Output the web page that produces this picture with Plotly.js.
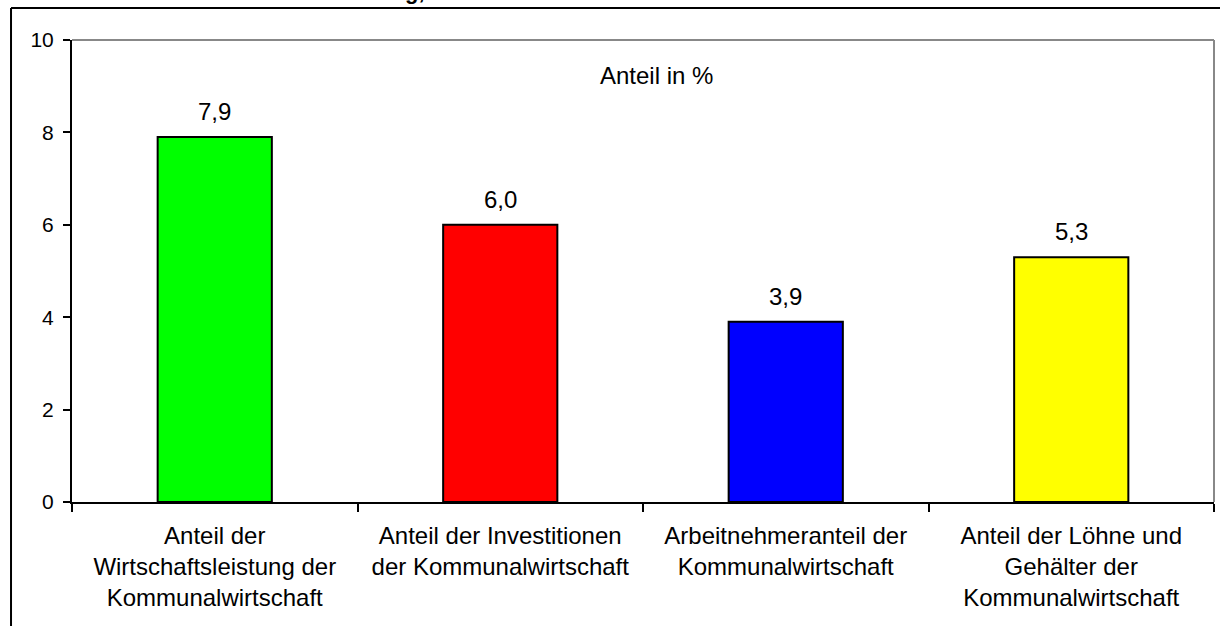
<!DOCTYPE html>
<html>
<head>
<meta charset="utf-8">
<script src="https://cdn.plot.ly/plotly-3.0.1.min.js"></script>
<style>html,body{margin:0;padding:0;background:#fff;}#chart{width:1220px;height:626px;}</style>
</head>
<body>
<div id="chart"></div>
<script>
var categories = [
  "Anteil der<br>Wirtschaftsleistung der<br>Kommunalwirtschaft",
  "Anteil der Investitionen<br>der Kommunalwirtschaft",
  "Arbeitnehmeranteil der<br>Kommunalwirtschaft",
  "Anteil der Löhne und<br>Gehälter der<br>Kommunalwirtschaft"
];
var values = [7.9, 6.0, 3.9, 5.3];
var barColors = ["#00ff00", "#ff0000", "#0000ff", "#ffff00"];
var yTicks = [0, 2, 4, 6, 8, 10];

var font = "Arial, 'Liberation Sans', sans-serif";
var data = [{
  type: "bar",
  x: categories,
  y: values,
  marker: {color: barColors, line: {color: "#000", width: 2}},
  hoverinfo: "skip"
}];

var labelAnns = categories.map(function (c, i) {
  return {
    text: values[i].toFixed(1).replace(".", ","),
    x: c, y: values[i], xref: "x", yref: "y",
    xanchor: "center", yanchor: "bottom", yshift: 10,
    showarrow: false,
    font: {family: font, size: 24, color: "#000"}
  };
});

var layout = {
  width: 1220, height: 626,
  margin: {l: 72, r: 6, t: 40, b: 124},
  paper_bgcolor: "#fff", plot_bgcolor: "#fff",
  bargap: 0.6,
  showlegend: false,
  font: {family: font, size: 24, color: "#000"},
  xaxis: {
    type: "category",
    showline: true, linecolor: "#000", linewidth: 2,
    ticks: "outside", tickson: "boundaries", ticklen: 8, tickwidth: 2, tickcolor: "#000",
    ticklabelstandoff: 11,
    showgrid: false, zeroline: false,
    tickfont: {family: font, size: 24, color: "#000"}
  },
  yaxis: {
    range: [0, 10], tickvals: yTicks,
    showline: true, linecolor: "#000", linewidth: 2,
    ticks: "outside", ticklen: 7, tickwidth: 2, tickcolor: "#000",
    ticklabelstandoff: 5,
    showgrid: false, zeroline: false,
    tickfont: {family: font, size: 21, color: "#000"}
  },
  shapes: [
    {type: "line", xref: "paper", yref: "paper", x0: 0, x1: 1, y0: 1, y1: 1, line: {color: "#888", width: 2}},
    {type: "line", xref: "paper", yref: "paper", x0: 1, x1: 1, y0: 0, y1: 1, line: {color: "#888", width: 2}},
    {type: "line", xref: "paper", yref: "paper", x0: -0.0534, x1: 1.01, y0: 1.0693, y1: 1.0693, line: {color: "#000", width: 2}},
    {type: "line", xref: "paper", yref: "paper", x0: -0.0534, x1: -0.0534, y0: -0.3, y1: 1.0693, line: {color: "#000", width: 2}}
  ],
  annotations: labelAnns.concat([
    {text: "Anteil in %", xref: "paper", yref: "paper", x: 0.512, y: 0.924, xanchor: "center", yanchor: "middle", showarrow: false,
     font: {family: font, size: 24, color: "#000"}},
    {text: "<b>g,</b>", xref: "paper", yref: "paper", x: 0.3007, y: 1.0736, xanchor: "center", yanchor: "bottom", showarrow: false,
     font: {family: font, size: 22, color: "#000"}}
  ])
};

Plotly.newPlot("chart", data, layout, {displayModeBar: false, staticPlot: true});
</script>
</body>
</html>
